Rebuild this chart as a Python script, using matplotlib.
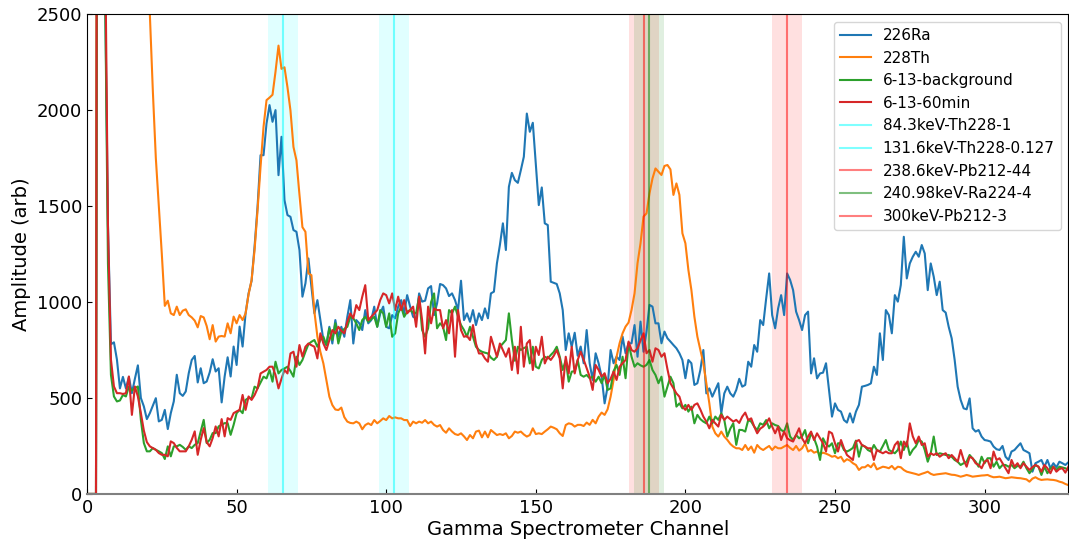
import numpy as np
import matplotlib.pyplot as plt

# counts per channel, channel 0..328
ra226 = [
    0, 0, 0, 0, 9000, 6000, 2700, 1400, 780, 790,
    700, 550, 610, 550, 610, 525, 600, 670, 500, 456,
    390, 421, 460, 499, 378, 386, 438, 338, 421, 482,
    621, 525, 511, 534, 629, 698, 719, 581, 655, 577,
    586, 633, 702, 638, 655, 477, 612, 712, 612, 768,
    672, 872, 768, 941, 1045, 1110, 1288, 1496, 1765, 1765,
    1930, 2026, 1939, 2000, 1661, 1861, 1531, 1453, 1444, 1375,
    1366, 1271, 1028, 1097, 1227, 1080, 941, 1010, 906, 802,
    776, 871, 784, 906, 819, 871, 819, 923, 1010, 784,
    906, 889, 854, 958, 889, 906, 976, 871, 941, 976,
    871, 863, 932, 915, 976, 1010, 941, 1036, 976, 923,
    915, 1045, 1002, 1007, 1071, 1083, 932, 993, 1094, 1088,
    1071, 1031, 1045, 1010, 958, 1111, 906, 941, 897, 958,
    880, 941, 906, 967, 915, 1045, 1054, 1201, 1297, 1410,
    1271, 1600, 1673, 1635, 1621, 1687, 1757, 1982, 1887, 1934,
    1722, 1505, 1597, 1410, 1401, 1106, 1100, 1094, 1045, 958,
    750, 837, 767, 840, 720, 768, 681, 854, 681, 594,
    733, 681, 611, 472, 559, 750, 681, 715, 698, 820,
    733, 785, 785, 880, 715, 898, 741, 846, 985, 976,
    889, 889, 785, 846, 811, 794, 776, 759, 733, 698,
    603, 698, 681, 568, 577, 646, 750, 524, 550, 507,
    542, 577, 420, 524, 559, 524, 507, 542, 600, 559,
    568, 689, 663, 776, 741, 906, 880, 1019, 1149, 932,
    863, 967, 1036, 932, 1149, 1115, 1062, 950, 906, 854,
    932, 950, 628, 707, 602, 628, 632, 681, 542, 403,
    472, 438, 429, 385, 372, 420, 372, 429, 464, 559,
    563, 568, 576, 663, 620, 837, 698, 958, 932, 837,
    1036, 1002, 1089, 1340, 1123, 1201, 1236, 1262, 1236, 1297,
    1253, 1062, 1201, 1132, 1036, 1106, 958, 945, 871, 811,
    698, 559, 490, 446, 441, 498, 342, 325, 333, 299,
    281, 278, 273, 247, 233, 229, 250, 194, 177, 221,
    229, 247, 264, 229, 221, 212, 116, 160, 168, 177,
    142, 177, 134, 160, 139, 168, 160, 151, 165,
]

th228 = [
    0, 0, 0, 0, 12000, 10000, 8000, 7000, 6000, 5500,
    5000, 4600, 4300, 4000, 3700, 3500, 3300, 3100, 2900, 2750,
    2600, 2500, 2100, 1750, 1500, 1250, 980, 1007, 941, 932,
    976, 932, 955, 962, 932, 920, 903, 868, 927, 920,
    875, 806, 880, 794, 820, 823, 820, 889, 837, 924,
    889, 932, 906, 941, 1040, 1114, 1271, 1479, 1705, 1913,
    2052, 2065, 2080, 2200, 2336, 2215, 2223, 2119, 1998, 1808,
    1738, 1560, 1390, 1366, 1149, 1140, 950, 820, 740, 680,
    594, 507, 463, 440, 437, 450, 400, 377, 370, 368,
    377, 368, 337, 359, 368, 359, 385, 368, 380, 394,
    385, 406, 394, 399, 394, 394, 385, 385, 354, 377,
    368, 377, 371, 385, 368, 377, 360, 351, 359, 333,
    319, 342, 325, 312, 307, 316, 300, 281, 307, 290,
    325, 330, 295, 325, 295, 333, 320, 307, 312, 307,
    316, 290, 302, 325, 319, 325, 310, 299, 307, 342,
    312, 316, 312, 325, 337, 351, 345, 337, 316, 302,
    359, 368, 364, 351, 360, 360, 354, 372, 360, 386,
    368, 403, 424, 412, 441, 507, 594, 715, 785, 837,
    872, 893, 959, 1045, 1202, 1306, 1445, 1462, 1566, 1644,
    1696, 1679, 1662, 1709, 1714, 1691, 1558, 1618, 1558, 1358,
    1306, 1167, 1063, 924, 820, 750, 681, 577, 472, 351,
    316, 299, 325, 299, 282, 261, 247, 238, 238, 229,
    255, 229, 247, 215, 255, 238, 229, 240, 250, 229,
    247, 238, 238, 247, 255, 240, 229, 250, 226, 238,
    264, 221, 229, 215, 221, 208, 215, 210, 203, 194,
    198, 186, 194, 168, 181, 174, 160, 151, 125, 139,
    139, 151, 139, 160, 128, 135, 142, 139, 134, 146,
    128, 142, 139, 125, 116, 112, 108, 104, 99, 105,
    110, 116, 105, 99, 102, 104, 106, 108, 104, 100,
    99, 95, 90, 94, 99, 95, 90, 92, 94, 96,
    97, 99, 92, 87, 88, 90, 86, 82, 84, 87,
    85, 83, 82, 79, 76, 64, 80, 87, 78, 73,
    75, 76, 74, 73, 70, 64, 60, 52, 46,
]

bkg_613 = [
    0, 0, 0, 0, 9000, 6000, 2700, 1200, 620, 508,
    482, 487, 516, 508, 560, 539, 551, 560, 386, 265,
    222, 222, 239, 230, 222, 213, 182, 248, 196, 248,
    248, 256, 245, 230, 248, 239, 256, 265, 326, 386,
    265, 282, 317, 317, 352, 360, 369, 369, 308, 360,
    421, 438, 421, 490, 500, 498, 559, 550, 580, 611,
    602, 646, 585, 689, 628, 646, 654, 663, 640, 611,
    715, 672, 698, 741, 780, 793, 802, 767, 802, 819,
    776, 863, 802, 889, 784, 845, 860, 871, 923, 915,
    889, 854, 906, 923, 897, 910, 923, 871, 958, 941,
    871, 941, 819, 837, 941, 976, 923, 950, 958, 945,
    941, 1028, 854, 819, 863, 1000, 1045, 863, 889, 871,
    802, 958, 941, 976, 923, 880, 854, 819, 871, 819,
    767, 750, 741, 736, 732, 710, 698, 715, 767, 784,
    802, 941, 802, 694, 767, 750, 760, 767, 680, 767,
    663, 654, 698, 715, 706, 724, 740, 767, 715, 646,
    698, 585, 637, 640, 698, 620, 611, 620, 603, 611,
    585, 611, 577, 620, 542, 550, 640, 672, 620, 715,
    603, 785, 715, 663, 681, 670, 663, 672, 698, 646,
    620, 577, 611, 507, 560, 611, 577, 455, 472, 446,
    464, 429, 455, 368, 412, 390, 377, 368, 403, 368,
    403, 386, 420, 386, 299, 340, 368, 256, 334, 333,
    325, 385, 377, 351, 333, 368, 360, 385, 342, 368,
    359, 354, 333, 325, 368, 299, 281, 307, 290, 300,
    333, 264, 316, 290, 247, 177, 290, 260, 247, 264,
    212, 264, 264, 229, 221, 229, 240, 278, 194, 255,
    247, 229, 221, 255, 229, 221, 250, 281, 229, 221,
    212, 229, 273, 229, 273, 203, 230, 247, 281, 273,
    229, 168, 212, 299, 203, 212, 208, 203, 203, 194,
    177, 168, 151, 160, 168, 203, 185, 168, 142, 194,
    160, 186, 186, 142, 168, 134, 151, 151, 142, 151,
    134, 146, 142, 168, 134, 108, 130, 151, 142, 99,
    142, 108, 134, 142, 125, 142, 138, 134, 125,
]

run_60min = [
    0, 0, 0, 0, 12000, 7000, 3000, 1400, 700, 560,
    525, 525, 521, 525, 612, 412, 560, 508, 421, 330,
    270, 248, 239, 230, 213, 204, 204, 196, 274, 265,
    240, 222, 222, 222, 248, 282, 326, 204, 282, 343,
    270, 248, 291, 352, 300, 390, 300, 395, 386, 421,
    430, 438, 516, 438, 508, 490, 515, 550, 628, 637,
    646, 663, 663, 620, 550, 600, 646, 628, 732, 741,
    663, 776, 715, 767, 784, 775, 767, 706, 837, 784,
    750, 802, 854, 837, 871, 850, 837, 897, 941, 915,
    984, 958, 1028, 1088, 906, 923, 940, 958, 1010, 1045,
    1036, 993, 1045, 958, 1028, 958, 1010, 941, 958, 976,
    871, 1028, 906, 732, 976, 889, 967, 958, 958, 863,
    906, 837, 958, 715, 958, 854, 819, 823, 802, 880,
    784, 732, 732, 706, 689, 819, 767, 715, 784, 750,
    715, 759, 646, 767, 628, 871, 663, 784, 802, 646,
    767, 724, 819, 680, 715, 698, 720, 750, 706, 550,
    715, 628, 767, 628, 698, 741, 700, 655, 611, 542,
    672, 646, 611, 629, 577, 600, 637, 594, 663, 681,
    698, 794, 750, 741, 759, 800, 837, 733, 750, 689,
    759, 750, 715, 733, 650, 577, 550, 524, 507, 455,
    438, 464, 438, 464, 472, 440, 403, 377, 342, 386,
    368, 351, 412, 386, 403, 390, 377, 386, 370, 403,
    424, 385, 394, 351, 316, 340, 351, 368, 394, 351,
    316, 351, 281, 325, 290, 280, 273, 307, 342, 290,
    264, 299, 325, 281, 316, 290, 264, 221, 325, 316,
    264, 221, 281, 238, 203, 190, 177, 273, 281, 255,
    247, 238, 238, 177, 229, 220, 212, 221, 212, 212,
    255, 273, 186, 273, 247, 368, 300, 264, 299, 255,
    264, 194, 212, 203, 212, 194, 205, 212, 186, 203,
    186, 168, 229, 177, 142, 194, 186, 160, 151, 134,
    168, 177, 134, 221, 177, 186, 160, 134, 108, 177,
    142, 160, 134, 160, 142, 125, 140, 151, 142, 116,
    151, 134, 108, 142, 116, 130, 134, 111, 142,
]

# reference gamma lines
line_kev = [84.3, 131.6, 238.6, 240.98, 300]
line_names = ['84.3keV-Th228-1', '131.6keV-Th228-0.127', '238.6keV-Pb212-44',
              '240.98keV-Ra224-4', '300keV-Pb212-3']
line_colors = ['cyan', 'cyan', 'red', 'green', 'red']

# energy calibration keV = gain * channel + offset
gain = 1.28
offset = 0.46
window = 5  # channels either side of a line

channel = np.arange(len(ra226))

fig = plt.figure(figsize=(10.69, 5.44), dpi=100)
ax = fig.add_axes([0.0814, 0.092, 0.918, 0.882])

ax.plot(channel, ra226, lw=1.5, label='226Ra')
ax.plot(channel, th228, lw=1.5, label='228Th')
ax.plot(channel, bkg_613, lw=1.5, label='6-13-background')
ax.plot(channel, run_60min, lw=1.5, label='6-13-60min')

for kev, name, col in zip(line_kev, line_names, line_colors):
    ch = (kev - offset) / gain
    ax.axvline(ch, color=col, alpha=0.5, lw=1.5, label=name)
    ax.axvspan(ch - window, ch + window, color=col, alpha=0.12, lw=0)

ax.set_xlim(0, 328)
ax.set_ylim(0, 2500)
ax.set_xticks([0, 50, 100, 150, 200, 250, 300])
ax.set_yticks([0, 500, 1000, 1500, 2000, 2500])
ax.tick_params(direction='in', labelsize=13)
ax.spines['bottom'].set_color('gray')
ax.spines['bottom'].set_linewidth(1.5)

ax.set_xlabel('Gamma Spectrometer Channel', fontsize=14, labelpad=2)
ax.set_ylabel('Amplitude (arb)', fontsize=14, labelpad=4)
ax.legend(loc='upper right', fontsize=11)

fig.savefig('out.png', dpi=100)
